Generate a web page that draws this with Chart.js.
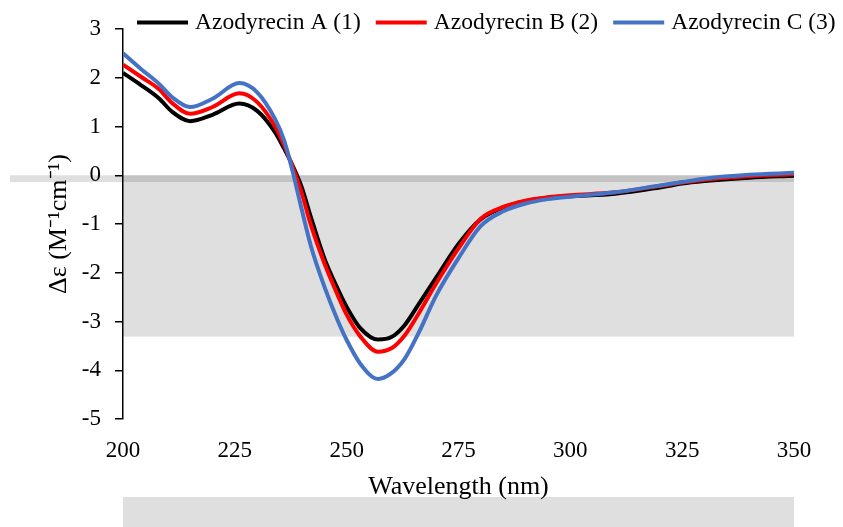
<!DOCTYPE html>
<html>
<head>
<meta charset="utf-8">
<script src="https://cdn.jsdelivr.net/npm/chart.js@4.4.0/dist/chart.umd.min.js"></script>
<style>
html,body{margin:0;padding:0;background:#fff;}
</style>
</head>
<body>
<canvas id="myChart" width="843" height="527"></canvas>
<script>
// wavelength (nm)
var wl   = [200, 204, 208, 211, 215, 220, 226, 230, 234, 236, 238, 240, 242, 245, 248, 250, 253, 257, 260, 263, 266, 270, 275, 280, 285, 290, 295, 300, 310, 320, 325, 330, 340, 350];
// Δε of each compound
var azoA = [2.10, 1.85, 1.58, 1.30, 1.11, 1.24, 1.47, 1.32, 0.88, 0.55, 0.18, -0.26, -0.86, -1.70, -2.33, -2.70, -3.13, -3.37, -3.32, -3.07, -2.66, -2.10, -1.41, -0.90, -0.66, -0.53, -0.46, -0.43, -0.38, -0.25, -0.17, -0.12, -0.05, -0.01];
var azoB = [2.27, 2.02, 1.77, 1.48, 1.26, 1.40, 1.68, 1.50, 1.00, 0.62, 0.15, -0.38, -1.02, -1.80, -2.46, -2.86, -3.30, -3.62, -3.55, -3.28, -2.85, -2.22, -1.50, -0.89, -0.65, -0.52, -0.45, -0.41, -0.35, -0.22, -0.15, -0.09, -0.02, 0.02];
var azoC = [2.50, 2.18, 1.88, 1.60, 1.40, 1.57, 1.89, 1.70, 1.15, 0.72, 0.05, -0.72, -1.45, -2.28, -2.98, -3.38, -3.86, -4.18, -4.06, -3.76, -3.25, -2.47, -1.70, -1.04, -0.74, -0.58, -0.49, -0.44, -0.35, -0.21, -0.14, -0.07, 0.01, 0.05];
var names = ['Azodyrecin A (1)', 'Azodyrecin B (2)', 'Azodyrecin C (3)'];
var colors = ['#000000', '#ff0000', '#4472c4'];
var xTicks = [200, 225, 250, 275, 300, 325, 350];

var serif = "'Liberation Serif', 'Times New Roman', serif";

function pts(vals){
    return wl.map(function(w, i){ return {x: w, y: vals[i]}; });
}

// grey boxes that sit behind the plot in the picture
var greyBoxes = {
    id: 'greyBoxes',
    beforeDraw: function(chart){
        var c = chart.ctx, a = chart.chartArea, ys = chart.scales.y;
        var y0 = ys.getPixelForValue(0);
        var y1 = ys.getPixelForValue(-0.14);
        var y2 = ys.getPixelForValue(-3.31);
        c.save();
        c.fillStyle = '#dfdfdf';
        c.fillRect(10, y0, a.left - 10, y1 - y0);   // strip left of the axis
        c.fillRect(a.left, y1, a.right - a.left, y2 - y1);
        c.fillRect(a.left, 497, a.right - a.left, chart.height - 497);
        c.fillStyle = '#c3c3c3';
        c.fillRect(a.left, y0, a.right - a.left, y1 - y0);
        c.restore();
    }
};

// legend drawn by hand so it can sit right above the plot
var lineLegend = {
    id: 'lineLegend',
    afterDraw: function(chart){
        var c = chart.ctx;
        var x = 137, y = 22.5;
        c.save();
        c.font = '23.5px ' + serif;
        c.textBaseline = 'middle';
        c.fillStyle = '#000';
        chart.data.datasets.forEach(function(ds){
            c.strokeStyle = ds.borderColor;
            c.lineWidth = 4;
            c.beginPath();
            c.moveTo(x, y);
            c.lineTo(x + 51, y);
            c.stroke();
            x += 58;
            c.fillText(ds.label, x, y + 0.5);
            x += c.measureText(ds.label).width + 15;
        });
        c.restore();
    }
};

var ctx = document.getElementById('myChart').getContext('2d');
var myChart = new Chart(ctx, {
    type: 'line',
    data: {
        datasets: [
            {label: names[0], data: pts(azoA), borderColor: colors[0], backgroundColor: colors[0], order: 2},
            {label: names[1], data: pts(azoB), borderColor: colors[1], backgroundColor: colors[1], order: 1},
            {label: names[2], data: pts(azoC), borderColor: colors[2], backgroundColor: colors[2], order: 0}
        ]
    },
    options: {
        responsive: false,
        animation: false,
        layout: {padding: {left: 0, right: 0, top: 29, bottom: 0}},
        elements: {
            point: {radius: 0},
            line: {borderWidth: 4, cubicInterpolationMode: 'monotone', fill: false}
        },
        plugins: {
            tooltip: {enabled: false},
            legend: {display: false}
        },
        scales: {
            x: {
                type: 'linear',
                min: 200,
                max: 350,
                afterBuildTicks: function(s){ s.ticks = xTicks.map(function(v){ return {value: v}; }); },
                afterFit: function(s){ s.height = 108; },
                grid: {display: false, drawTicks: false},
                border: {display: false},
                ticks: {color: '#000', padding: 18, maxRotation: 0, font: {family: serif, size: 23}},
                title: {display: true, text: 'Wavelength (nm)', color: '#000', padding: {top: 0, bottom: 24}, font: {family: serif, size: 26}}
            },
            y: {
                min: -5,
                max: 3,
                afterFit: function(s){ s.width = 123; },
                grid: {drawOnChartArea: false, drawTicks: true, tickLength: 8, color: '#000', lineWidth: 1.5},
                border: {display: true, color: '#000', width: 1.5},
                ticks: {stepSize: 1, color: '#000', padding: 14, font: {family: serif, size: 23}},
                title: {display: true, text: 'Δε (M⁻¹cm⁻¹)', color: '#000', padding: {top: 44, bottom: 0}, font: {family: serif, size: 26}}
            },
            yR: {
                position: 'right',
                display: true,
                afterFit: function(s){ s.width = 49; },
                ticks: {display: false},
                grid: {display: false, drawTicks: false},
                border: {display: false}
            }
        }
    },
    plugins: [greyBoxes, lineLegend]
});
</script>
</body>
</html>
